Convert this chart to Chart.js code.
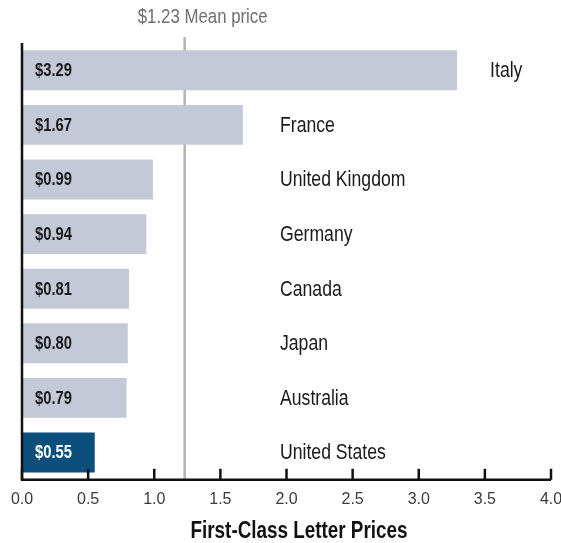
<!DOCTYPE html>
<html>
<head>
<meta charset="utf-8">
<script src="https://cdn.jsdelivr.net/npm/chart.js@4"></script>
<style>
  html, body { margin: 0; padding: 0; background: #ffffff; }
  #wrap { width: 561px; height: 543px; }
</style>
</head>
<body>
<div id="wrap"><canvas id="priceChart" width="561" height="543"></canvas></div>
<script>
var countries = ["Italy", "France", "United Kingdom", "Germany", "Canada", "Japan", "Australia", "United States"];
var prices = [3.29, 1.67, 0.99, 0.94, 0.81, 0.80, 0.79, 0.55];
var meanPrice = 1.23;
var meanLabel = "$1.23 Mean price";
var xTicks = [0.0, 0.5, 1.0, 1.5, 2.0, 2.5, 3.0, 3.5, 4.0];
var axisTitle = "First-Class Letter Prices";

var fontFamily = "'Liberation Sans', Arial, sans-serif";
var narrow = 0.82; // squeeze Arial-like glyphs into a condensed look
var greyBar = "#c3c9d6";
var usBar = "#0b4f7d";

var barColors = countries.map(function (c) {
    return c == "United States" ? usBar : greyBar;
});

function narrowText(ctx, text, x, y, align) {
    ctx.save();
    ctx.translate(x, y);
    ctx.scale(narrow, 1);
    ctx.textAlign = align;
    ctx.fillText(text, 0, 0);
    ctx.restore();
}

// mean line sits behind the bars
var meanLinePlugin = {
    id: "meanLine",
    beforeDatasetsDraw: function (chart) {
        var ctx = chart.ctx;
        var x = chart.scales.x.getPixelForValue(meanPrice);
        var area = chart.chartArea;
        ctx.save();
        ctx.strokeStyle = "#b3b3b3";
        ctx.lineWidth = 2.5;
        ctx.beginPath();
        ctx.moveTo(x, area.top - 6);
        ctx.lineTo(x, area.bottom);
        ctx.stroke();
        ctx.fillStyle = "#6f6f6f";
        ctx.font = "20.5px " + fontFamily;
        ctx.textBaseline = "alphabetic";
        narrowText(ctx, meanLabel, x + 18, 23, "center");
        ctx.restore();
    },
};

// axes, inward ticks, value and country labels, axis title
var labelsPlugin = {
    id: "barLabels",
    afterDatasetsDraw: function (chart) {
        var ctx = chart.ctx;
        var area = chart.chartArea;
        var xScale = chart.scales.x;
        var meta = chart.getDatasetMeta(0);
        ctx.save();

        ctx.strokeStyle = "#111111";
        ctx.lineWidth = 2.5;
        ctx.beginPath();
        ctx.moveTo(area.left, area.top);
        ctx.lineTo(area.left, area.bottom);
        ctx.lineTo(area.right, area.bottom);
        ctx.stroke();
        for (t of xTicks) {
            var tx = xScale.getPixelForValue(t);
            ctx.beginPath();
            ctx.moveTo(tx, area.bottom);
            ctx.lineTo(tx, area.bottom - 11);
            ctx.stroke();
        }

        ctx.textBaseline = "middle";
        for (var i = 0; i < meta.data.length; i++) {
            var bar = meta.data[i];
            ctx.font = "bold 18px " + fontFamily;
            ctx.fillStyle = countries[i] == "United States" ? "#ffffff" : "#1a1a1a";
            narrowText(ctx, "$" + prices[i].toFixed(2), area.left + 13, bar.y + 1, "left");
            ctx.font = "21.5px " + fontFamily;
            ctx.fillStyle = "#1a1a1a";
            var lx = Math.max(bar.x + 33, 280);
            narrowText(ctx, countries[i], lx, bar.y + 1, "left");
        }

        ctx.font = "bold 23px " + fontFamily;
        ctx.fillStyle = "#111111";
        narrowText(ctx, axisTitle, 299, 532, "center");
        ctx.restore();
    },
};

var config = {
    type: "bar",
    data: {
        labels: countries,
        datasets: [{
            data: prices,
            backgroundColor: barColors,
            borderWidth: 0,
            barPercentage: 0.73,
            categoryPercentage: 1.0,
        }],
    },
    options: {
        indexAxis: "y",
        responsive: false,
        animation: false,
        events: [],
        layout: {
            padding: { left: 22, right: 10, top: 43, bottom: 24 },
        },
        plugins: {
            legend: { display: false },
            tooltip: { enabled: false },
        },
        scales: {
            x: {
                min: 0,
                max: 4,
                afterBuildTicks: function (scale) {
                    scale.ticks = xTicks.map(function (v) { return { value: v }; });
                },
                afterFit: function (scale) {
                    scale.paddingLeft = 0;
                    scale.paddingRight = 0;
                },
                grid: { display: false, drawTicks: false },
                border: { display: false },
                ticks: {
                    padding: 10,
                    color: "#3a3a3a",
                    font: { family: fontFamily, size: 16 },
                    maxRotation: 0,
                    callback: function (value) {
                        return Number(value).toFixed(1);
                    },
                },
            },
            y: {
                display: false,
            },
        },
    },
    plugins: [meanLinePlugin, labelsPlugin],
};

var priceChart = new Chart("priceChart", config);
</script>
</body>
</html>
